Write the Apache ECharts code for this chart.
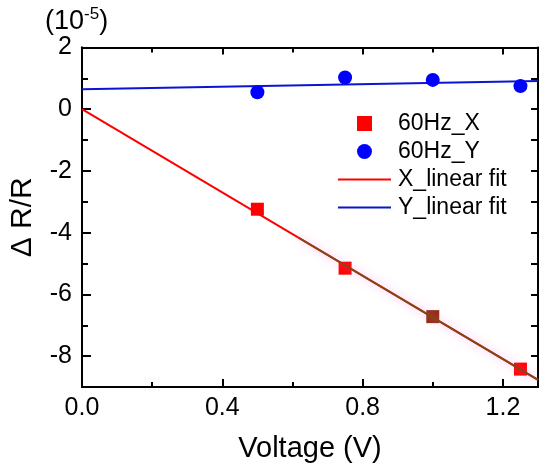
<!DOCTYPE html>
<html>
<head>
<meta charset="utf-8">
<script src="https://cdn.jsdelivr.net/npm/echarts@6/dist/echarts.min.js"></script>
<style>
  html, body { margin: 0; padding: 0; background: #fff; }
  #main { width: 550px; height: 468px; }
</style>
</head>
<body>
<div id="main"></div>
<script>
// 数据
const voltage = [0.5, 0.75, 1.0, 1.25]
const signalX = [-3.24, -5.15, -6.72, -8.42]
const signalY = [0.55, 1.03, 0.95, 0.75]
// 拟合直线的两个端点
const fitVoltage = [0, 1.3]
const fitX = [0.0, -8.77]
const fitY = [0.645, 0.914]
// 拟合线下半段颜色偏棕（原图如此）
const shadeVoltage = [0.62, 1.3]
const shadeX = [-4.18, -8.77]

// 刻度
const xTicks = [0, 0.4, 0.8, 1.2]
const xMinor = [0.2, 0.6, 1.0]
const yTicks = [-8, -6, -4, -2, 0, 2]
const yMinor = [-7, -5, -3, -1, 1]
const yAll = [-8, -7, -6, -5, -4, -3, -2, -1, 0, 1]

const font = "'Liberation Sans', Arial, sans-serif"
// 图例图标：线段和正方形
const lineIcon = 'path://M0,0 L53,0 L53,2 L0,2 Z'
const squareIcon = 'path://M0,0 L10,0 L10,10 L0,10 Z'

// 把两组数组拼成 [x, y] 点
function pairs(xs, ys) {
    return xs.map((x, i) => [x, ys[i]])
}

// 生成一条坐标轴（主/次刻度、上下左右共用）
function axis(kind, position, ticks, len, extra) {
    let base = {
        type: 'value',
        position: position,
        min: kind === 'x' ? 0 : -9,
        max: kind === 'x' ? 1.3 : 2,
        axisLine: { show: true, onZero: false, lineStyle: { color: '#000', width: 2 } },
        axisTick: { show: true, inside: true, length: len, customValues: ticks, lineStyle: { color: '#000', width: 2 } },
        axisLabel: { show: false },
        splitLine: { show: false }
    }
    return Object.assign(base, extra || {})
}

var myChart = echarts.init(document.getElementById('main'))

var option = {
    animation: false,
    backgroundColor: '#fff',
    textStyle: { fontFamily: font },
    grid: { left: 75, right: 12, top: 47.5, bottom: 81 },
    xAxis: [
        axis('x', 'bottom', xTicks, 8, {
            axisLabel: {
                show: true, customValues: xTicks, color: '#000', fontSize: 25, margin: 9,
                fontFamily: font, formatter: v => v.toFixed(1)
            },
            name: 'Voltage (V)', nameLocation: 'middle', nameGap: 47,
            nameTextStyle: { color: '#000', fontSize: 29, fontFamily: font }
        }),
        axis('x', 'bottom', xMinor, 5),
        axis('x', 'top', xTicks, 7),
        axis('x', 'top', xMinor, 5)
    ],
    yAxis: [
        axis('y', 'left', yTicks, 9, {
            axisLabel: {
                show: true, customValues: yTicks, color: '#000', fontSize: 25, margin: 10,
                fontFamily: font, formatter: v => String(v)
            },
            name: 'Δ R/R', nameLocation: 'middle', nameGap: 44, nameRotate: 90,
            nameTextStyle: { color: '#000', fontSize: 30, fontFamily: font }
        }),
        axis('y', 'left', yMinor, 6),
        axis('y', 'right', yAll, 7)
    ],
    legend: {
        data: [
            { name: '60Hz_X', icon: squareIcon, itemStyle: { color: '#ff0000' } },
            { name: '60Hz_Y', icon: 'circle', itemStyle: { color: '#0000ff' } },
            { name: 'X_linear fit', icon: lineIcon, itemStyle: { color: '#ff0000' } },
            { name: 'Y_linear fit', icon: lineIcon, itemStyle: { color: '#0a14d2' } }
        ],
        orient: 'vertical',
        left: 338,
        top: 112,
        padding: 0,
        itemWidth: 53,
        itemHeight: 15,
        itemGap: 5,
        symbolKeepAspect: true,
        textStyle: { color: '#000', fontSize: 23, fontFamily: font, padding: [0, 0, 0, 2] }
    },
    graphic: [
        {
            type: 'text',
            left: 45,
            top: 6,
            style: {
                text: '{b|(10}{s|-5}{b|)}',
                fill: '#000',
                rich: {
                    b: { fontSize: 27, lineHeight: 32, fontFamily: font, fill: '#000' },
                    s: { fontSize: 17, lineHeight: 18, verticalAlign: 'top', fontFamily: font, fill: '#000' }
                }
            }
        }
    ],
    series: [
        {
            name: 'X_linear fit',
            type: 'line',
            data: pairs(fitVoltage, fitX),
            symbol: 'none',
            lineStyle: { color: '#ff0000', width: 2 },
            itemStyle: { color: '#ff0000' },
            z: 2
        },
        {
            name: 'Y_linear fit',
            type: 'line',
            data: pairs(fitVoltage, fitY),
            symbol: 'none',
            lineStyle: { color: '#0a14d2', width: 2 },
            itemStyle: { color: '#0a14d2' },
            z: 2
        },
        {
            name: '60Hz_X',
            type: 'scatter',
            data: pairs(voltage, signalX),
            symbol: 'rect',
            symbolSize: 13,
            itemStyle: {
                color: p => p.dataIndex === 2 ? '#8e2c0c' : '#ff0000',
                opacity: 1
            },
            z: 3
        },
        {
            name: '60Hz_Y',
            type: 'scatter',
            data: pairs(voltage, signalY),
            symbol: 'circle',
            symbolSize: 14,
            itemStyle: { color: '#0000ff', opacity: 1 },
            z: 3
        },
        {
            name: 'shade',
            type: 'line',
            data: pairs(shadeVoltage, shadeX),
            symbol: 'none',
            lineStyle: {
                color: '#7d4a12', width: 2,
                shadowColor: 'rgba(255, 110, 230, 0.7)', shadowBlur: 10
            },
            silent: true,
            z: 4
        }
    ]
}

option && myChart.setOption(option)
</script>
</body>
</html>
